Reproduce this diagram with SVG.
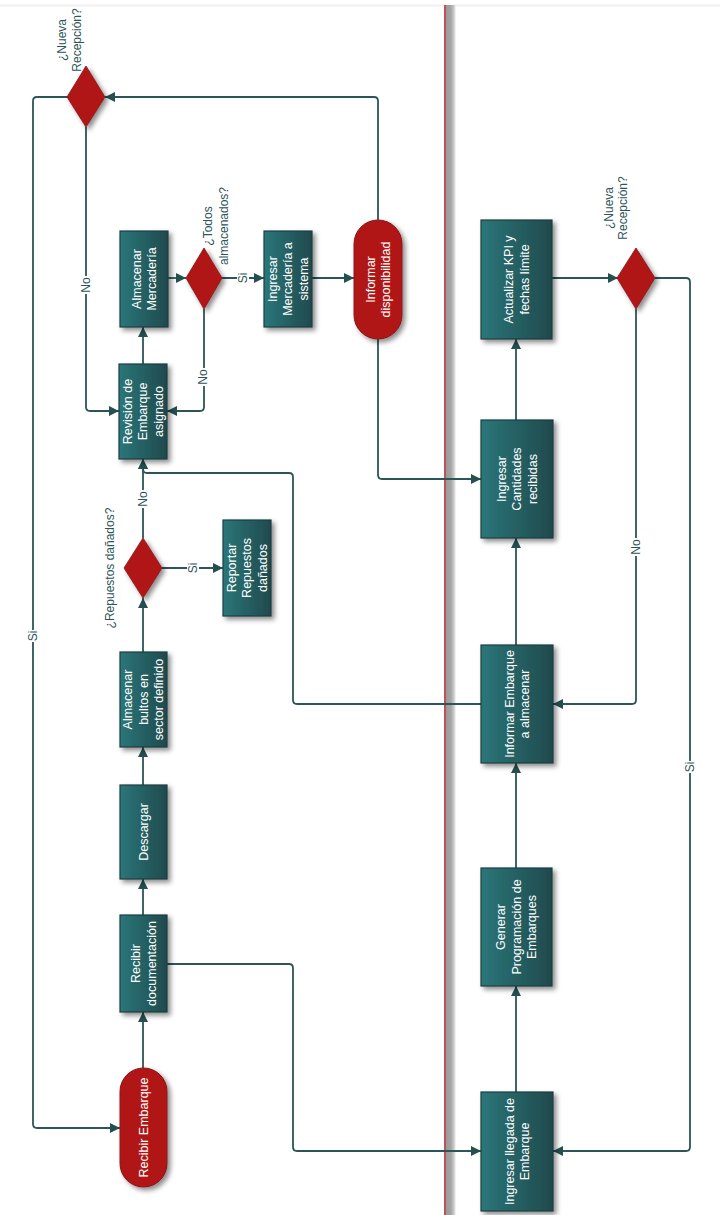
<svg xmlns="http://www.w3.org/2000/svg" width="720" height="1215" viewBox="0 0 720 1215">
  <defs>
    <linearGradient id="tealFill" x1="0" y1="0" x2="1" y2="0">
      <stop offset="0" stop-color="#2b7679"/>
      <stop offset="1" stop-color="#1f4a4d"/>
    </linearGradient>
    <linearGradient id="laneShade" x1="0" y1="0" x2="1" y2="0">
      <stop offset="0" stop-color="#9a9a9a"/>
      <stop offset="0.45" stop-color="#a6a6a6"/>
      <stop offset="0.75" stop-color="#cfcfcf"/>
      <stop offset="1" stop-color="#ffffff" stop-opacity="0"/>
    </linearGradient>
    <filter id="shadow" x="-30%" y="-30%" width="160%" height="160%">
      <feDropShadow dx="3" dy="3" stdDeviation="2.5" flood-color="#000" flood-opacity="0.45"/>
    </filter>
    <marker id="arr" viewBox="0 0 10 10" refX="10" refY="5" markerWidth="10" markerHeight="10" markerUnits="userSpaceOnUse" orient="auto">
      <path d="M0,0 L10,5 L0,10 z" fill="#24504f"/>
    </marker>
    <style>
      .task { fill: url(#tealFill); stroke: #1c3f42; stroke-width: 1.2; filter: url(#shadow); }
      .term { fill: #b01718; stroke: #8c1214; stroke-width: 1; filter: url(#shadow); }
      .dec { fill: #b01718; stroke: #8c1214; stroke-width: 0.8; filter: url(#shadow); }
      .nt { font-family: "Liberation Sans", Arial, sans-serif; font-size: 12.5px; fill: #ffffff; text-anchor: middle; }
      .lt { font-family: "Liberation Sans", Arial, sans-serif; font-size: 12px; fill: #2c5558; text-anchor: middle; }
      .edge { fill: none; stroke: #2c5558; stroke-width: 1.8; marker-end: url(#arr); }
      .lbg { fill: #ffffff; }
    </style>
  </defs>

  <rect width="720" height="1215" fill="#ffffff"/>

  <!-- lanes -->
  <g id="lanes">
    <line x1="0" y1="5.5" x2="720" y2="5.5" stroke="#f0f0f0" stroke-width="2"/>
    <rect x="446" y="5" width="11" height="1210" fill="url(#laneShade)"/>
    <line x1="445" y1="5" x2="445" y2="1215" stroke="#b0262a" stroke-width="1.6"/>
  </g>

  <!-- connectors -->
  <g id="connectors">
    <path class="edge" d="M143,1068 V1012"/>
    <path class="edge" d="M143,915 V879"/>
    <path class="edge" d="M143,785 V747"/>
    <path class="edge" d="M143,652 V598"/>
    <path class="edge" d="M143,538 V459"/>
    <path class="edge" d="M162,568 H223"/>
    <path class="edge" d="M143,364 V327"/>
    <path class="edge" d="M168,278 H186"/>
    <path class="edge" d="M222,278 H264"/>
    <path class="edge" d="M204,309 V407 Q204,411 200,411 H167"/>
    <path class="edge" d="M312,278 H354"/>
    <path class="edge" d="M378,220 V101 Q378,97 374,97 H105"/>
    <path class="edge" d="M86,127 V407 Q86,411 90,411 H119"/>
    <path class="edge" d="M68,97 H37 Q33,97 33,101 V1124 Q33,1128 37,1128 H120"/>
    <path class="edge" d="M378,339 V475 Q378,479 382,479 H481"/>
    <path class="edge" d="M167,964 H289 Q293,964 293,968 V1147 Q293,1151 297,1151 H481"/>
    <path class="edge" d="M516,1092 V986"/>
    <path class="edge" d="M516,868 V763"/>
    <path class="edge" d="M516,645 V538"/>
    <path class="edge" d="M516,420 V339"/>
    <path class="edge" d="M552,278 H618"/>
    <path class="edge" d="M636,309 V700 Q636,704 632,704 H553"/>
    <path class="edge" d="M655,278 H686 Q690,278 690,282 V1147 Q690,1151 686,1151 H553"/>
    <path class="edge" d="M481,704 H297 Q293,704 293,700 V477 Q293,473 289,473 H147 Q143,473 143,469 V459"/>

    <!-- edge labels -->
    <g>
      <rect class="lbg" x="137" y="490" width="12" height="18"/>
      <text class="lt" transform="translate(143,499) rotate(-90)" y="4.2">No</text>
      <rect class="lbg" x="187" y="562" width="12" height="12"/>
      <text class="lt" transform="translate(193,568) rotate(-90)" y="4.2">Si</text>
      <rect class="lbg" x="237" y="272" width="12" height="12"/>
      <text class="lt" transform="translate(243,278) rotate(-90)" y="4.2">Si</text>
      <rect class="lbg" x="197" y="368" width="12" height="18"/>
      <text class="lt" transform="translate(203,377) rotate(-90)" y="4.2">No</text>
      <rect class="lbg" x="80" y="276" width="12" height="18"/>
      <text class="lt" transform="translate(86,285) rotate(-90)" y="4.2">No</text>
      <rect class="lbg" x="27" y="630" width="12" height="12"/>
      <text class="lt" transform="translate(33,636) rotate(-90)" y="4.2">Si</text>
      <rect class="lbg" x="630" y="538" width="12" height="18"/>
      <text class="lt" transform="translate(636,547) rotate(-90)" y="4.2">No</text>
      <rect class="lbg" x="684" y="761" width="12" height="12"/>
      <text class="lt" transform="translate(690,767) rotate(-90)" y="4.2">Si</text>
    </g>
  </g>

  <!-- left lane -->
  <g id="recibir-embarque">
    <rect class="term" x="120" y="1068" width="47" height="119" rx="23.5" ry="23.5"/>
    <text class="nt" transform="translate(143.5,1127.5) rotate(-90)" y="4.4">Recibir Embarque</text>
  </g>
  <g id="recibir-documentacion">
    <rect class="task" x="120" y="915" width="47" height="97"/>
    <text class="nt" transform="translate(143.5,963.5) rotate(-90)"><tspan x="0" y="-3.3">Recibir</tspan><tspan x="0" y="12.2">documentación</tspan></text>
  </g>
  <g id="descargar">
    <rect class="task" x="120" y="785" width="47" height="94"/>
    <text class="nt" transform="translate(143.5,832) rotate(-90)" y="4.4">Descargar</text>
  </g>
  <g id="almacenar-bultos">
    <rect class="task" x="120" y="652" width="47" height="95"/>
    <text class="nt" transform="translate(143.5,699.5) rotate(-90)"><tspan x="0" y="-11.1">Almacenar</tspan><tspan x="0" y="4.4">bultos en</tspan><tspan x="0" y="19.9">sector definido</tspan></text>
  </g>
  <g id="repuestos-danados">
    <polygon class="dec" points="143,538 162,568 143,598 124,568"/>
    <text class="lt" transform="translate(110,568) rotate(-90)" y="4.2">¿Repuestos dañados?</text>
  </g>
  <g id="reportar-repuestos">
    <rect class="task" x="223" y="520" width="48" height="96"/>
    <text class="nt" transform="translate(247,568) rotate(-90)"><tspan x="0" y="-11.1">Reportar</tspan><tspan x="0" y="4.4">Repuestos</tspan><tspan x="0" y="19.9">dañados</tspan></text>
  </g>
  <g id="revision-embarque">
    <rect class="task" x="119" y="364" width="48" height="95"/>
    <text class="nt" transform="translate(143,411.5) rotate(-90)"><tspan x="0" y="-11.1">Revisión de</tspan><tspan x="0" y="4.4">Embarque</tspan><tspan x="0" y="19.9">asignado</tspan></text>
  </g>
  <g id="almacenar-mercaderia">
    <rect class="task" x="120" y="231" width="48" height="96"/>
    <text class="nt" transform="translate(144,279) rotate(-90)"><tspan x="0" y="-3.3">Almacenar</tspan><tspan x="0" y="12.2">Mercadería</tspan></text>
  </g>
  <g id="todos-almacenados">
    <polygon class="dec" points="204,248 222,278 204,309 186,278"/>
    <text class="lt" transform="translate(215.5,226) rotate(-90)"><tspan x="0" y="-4">¿Todos</tspan><tspan x="0" y="12">almacenados?</tspan></text>
  </g>
  <g id="ingresar-mercaderia">
    <rect class="task" x="264" y="231" width="48" height="96"/>
    <text class="nt" transform="translate(288,279) rotate(-90)"><tspan x="0" y="-11.1">Ingresar</tspan><tspan x="0" y="4.4">Mercadería a</tspan><tspan x="0" y="19.9">sistema</tspan></text>
  </g>
  <g id="informar-disponibilidad">
    <rect class="term" x="354" y="220" width="48" height="119" rx="24" ry="24"/>
    <text class="nt" transform="translate(378,279.5) rotate(-90)"><tspan x="0" y="-3.3">Informar</tspan><tspan x="0" y="12.2">disponibilidad</tspan></text>
  </g>
  <g id="nueva-recepcion-1">
    <polygon class="dec" points="86,66 105,97 86,127 67,97"/>
    <text class="lt" transform="translate(69,40) rotate(-90)"><tspan x="0" y="-3">¿Nueva</tspan><tspan x="0" y="11.5">Recepción?</tspan></text>
  </g>

  <!-- right lane -->
  <g id="actualizar-kpi">
    <rect class="task" x="481" y="220" width="71" height="119"/>
    <text class="nt" transform="translate(516.5,279.5) rotate(-90)"><tspan x="0" y="-3.3">Actualizar KPI y</tspan><tspan x="0" y="12.2">fechas límite</tspan></text>
  </g>
  <g id="nueva-recepcion-2">
    <polygon class="dec" points="636,248 655,278 636,309 617,278"/>
    <text class="lt" transform="translate(615.5,208) rotate(-90)"><tspan x="0" y="-3">¿Nueva</tspan><tspan x="0" y="11.5">Recepción?</tspan></text>
  </g>
  <g id="ingresar-cantidades">
    <rect class="task" x="481" y="420" width="72" height="118"/>
    <text class="nt" transform="translate(517,479) rotate(-90)"><tspan x="0" y="-11.1">Ingresar</tspan><tspan x="0" y="4.4">Cantidades</tspan><tspan x="0" y="19.9">recibidas</tspan></text>
  </g>
  <g id="informar-embarque">
    <rect class="task" x="481" y="645" width="72" height="118"/>
    <text class="nt" transform="translate(517,704) rotate(-90)"><tspan x="0" y="-3.3">Informar Embarque</tspan><tspan x="0" y="12.2">a almacenar</tspan></text>
  </g>
  <g id="generar-programacion">
    <rect class="task" x="481" y="868" width="71" height="118"/>
    <text class="nt" transform="translate(516.5,927) rotate(-90)"><tspan x="0" y="-11.1">Generar</tspan><tspan x="0" y="4.4">Programación de</tspan><tspan x="0" y="19.9">Embarques</tspan></text>
  </g>
  <g id="ingresar-llegada">
    <rect class="task" x="481" y="1092" width="72" height="119"/>
    <text class="nt" transform="translate(517,1151.5) rotate(-90)"><tspan x="0" y="-3.3">Ingresar llegada de</tspan><tspan x="0" y="12.2">Embarque</tspan></text>
  </g>
</svg>
